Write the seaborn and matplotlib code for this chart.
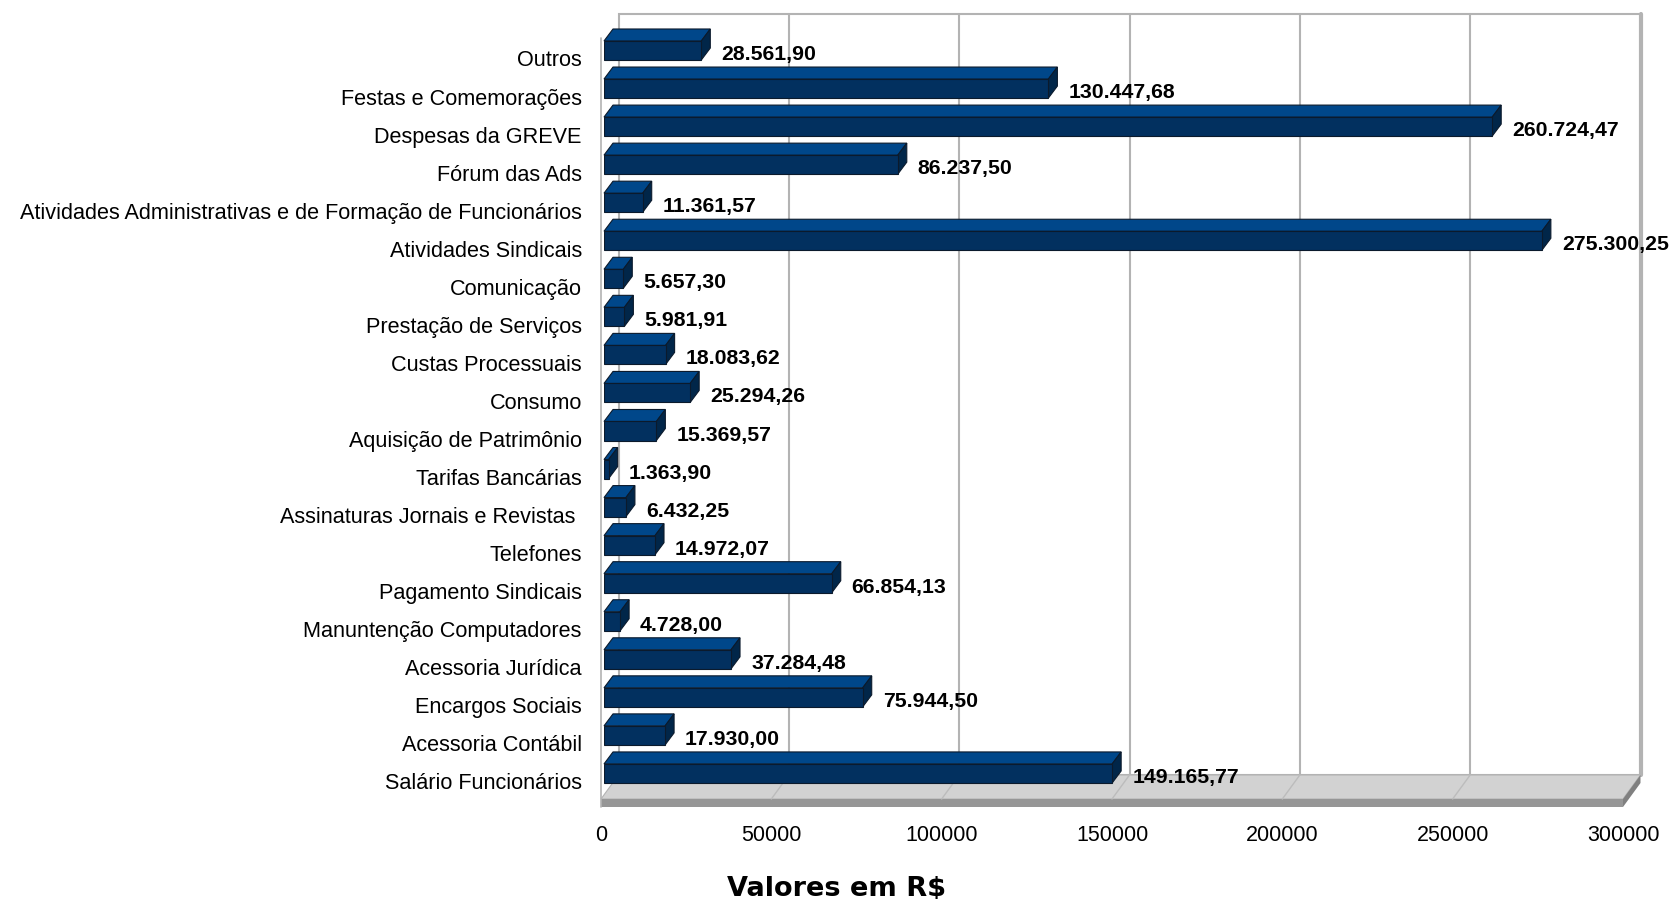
import matplotlib
matplotlib.use("Agg")
import matplotlib.pyplot as plt
import matplotlib.transforms as mtransforms
from matplotlib.patches import Polygon, Rectangle
from matplotlib.lines import Line2D
import pandas as pd
import seaborn as sns

# ---- data -------------------------------------------------------------
categorias = [
    "Outros",
    "Festas e Comemorações",
    "Despesas da GREVE",
    "Fórum das Ads",
    "Atividades Administrativas e de Formação de Funcionários",
    "Atividades Sindicais",
    "Comunicação",
    "Prestação de Serviços",
    "Custas Processuais",
    "Consumo",
    "Aquisição de Patrimônio",
    "Tarifas Bancárias",
    "Assinaturas Jornais e Revistas ",
    "Telefones",
    "Pagamento Sindicais",
    "Manuntenção Computadores",
    "Acessoria Jurídica",
    "Encargos Sociais",
    "Acessoria Contábil",
    "Salário Funcionários",
]
valores = [
    28561.90, 130447.68, 260724.47, 86237.50, 11361.57,
    275300.25, 5657.30, 5981.91, 18083.62, 25294.26,
    15369.57, 1363.90, 6432.25, 14972.07, 66854.13,
    4728.00, 37284.48, 75944.50, 17930.00, 149165.77,
]
ticks_x = [0, 50000, 100000, 150000, 200000, 250000, 300000]
titulo_eixo = "Valores em R$"

# ---- styling ----------------------------------------------------------
FRENTE = "#02305f"
TOPO = "#00478a"
LADO = "#012649"
BORDA = "#0b1a2c"
PAREDE = "#b3b3b3"
PISO = "#d2d2d2"
PISO_FRENTE = "#969696"
PISO_LADO = "#808080"


def brl(v):
    s = f"{v:,.2f}"
    return s.replace(",", "#").replace(".", ",").replace("#", ".")


W, H, DPI = 1672, 899, 100
sns.set_theme(style="white")
plt.rcParams["font.family"] = ["Liberation Sans", "DejaVu Sans"]

fig = plt.figure(figsize=(W / DPI, H / DPI), dpi=DPI)
fig.patch.set_facecolor("white")

# plot frame in pixels (front plane of the bars)
AX_L, AX_R, AX_T, AX_B = 604, 1626, 14, 807
ROW0, ROW_STEP = 50.5, 38.05
XMAX = ticks_x[-1]
ax = fig.add_axes([AX_L / W, 1 - AX_B / H, (AX_R - AX_L) / W, (AX_B - AX_T) / H])

DXP = XMAX / (AX_R - AX_L)      # data units per pixel (x)
DYP = 1.0 / ROW_STEP            # data units per pixel (y)


def py(p):
    return (p - ROW0) / ROW_STEP


df = pd.DataFrame({"categoria": categorias, "valor": valores})
sns.barplot(data=df, x="valor", y="categoria", orient="h", color=FRENTE,
            saturation=1, width=0.5, edgecolor=BORDA, linewidth=0.8,
            ax=ax, zorder=4)
ax.set_xlim(0, XMAX)
ax.set_ylim(py(AX_B), py(AX_T))

bars = list(ax.patches)

# ---- 3D box: back wall, floor, side line --------------------------------
BACK = 14.5 * DXP      # back wall shift
FRONT = -3 * DXP       # floor front edge shift
y_wall_top = py(14)
y_floor_back = py(775)
y_floor_front = py(799)
y_floor_bottom = py(807)

ax.add_patch(Rectangle((BACK, y_wall_top), XMAX, y_floor_back - y_wall_top,
                       facecolor="white", edgecolor=PAREDE, lw=1.5,
                       zorder=0, clip_on=False))
ax.add_line(Line2D([XMAX + BACK, XMAX + BACK], [y_wall_top, y_floor_back],
                   color=PAREDE, lw=3, zorder=0.5, clip_on=False))
for t in ticks_x[1:-1]:
    ax.add_line(Line2D([t + BACK, t + BACK], [y_wall_top, y_floor_back],
                       color=PAREDE, lw=1.5, zorder=0.5, clip_on=False))

ax.add_patch(Polygon([(BACK, y_floor_back), (XMAX + BACK, y_floor_back),
                      (XMAX + FRONT, y_floor_front), (FRONT, y_floor_front)],
                     closed=True, facecolor=PISO, edgecolor=PAREDE, lw=0.8,
                     zorder=1, clip_on=False))
for t in ticks_x[1:-1]:
    ax.add_line(Line2D([t + BACK, t + FRONT], [y_floor_back, y_floor_front],
                       color="#bcbcbc", lw=1, zorder=1.2, clip_on=False))
ax.add_patch(Rectangle((FRONT, y_floor_front), XMAX, y_floor_bottom - y_floor_front,
                       facecolor=PISO_FRENTE, edgecolor="none", zorder=1,
                       clip_on=False))
ax.add_patch(Polygon([(XMAX + FRONT, y_floor_front), (XMAX + BACK, y_floor_back),
                      (XMAX + BACK, y_floor_back + 8 * DYP),
                      (XMAX + FRONT, y_floor_bottom)],
                     closed=True, facecolor=PISO_LADO, edgecolor="none",
                     zorder=1, clip_on=False))
ax.add_line(Line2D([FRONT, FRONT], [py(38), y_floor_bottom], color=PAREDE,
                   lw=1.2, zorder=1.5, clip_on=False))

# ---- bar depth faces + value labels ------------------------------------
DX, DY = 9 * DXP, 12 * DYP
for bar, v in zip(bars, valores):
    x0 = bar.get_x()
    x1 = x0 + bar.get_width()
    yt = bar.get_y()
    yb = yt + bar.get_height()
    ax.add_patch(Polygon([(x0, yt), (x1, yt), (x1 + DX, yt - DY), (x0 + DX, yt - DY)],
                         closed=True, facecolor=TOPO, edgecolor=BORDA, lw=0.8,
                         zorder=3.5, clip_on=False))
    ax.add_patch(Polygon([(x1, yt), (x1 + DX, yt - DY), (x1 + DX, yb - DY), (x1, yb)],
                         closed=True, facecolor=LADO, edgecolor=BORDA, lw=0.8,
                         zorder=3.6, clip_on=False))
    ax.annotate(brl(v), xy=(x1, (yt + yb) / 2), xytext=(20, -4),
                textcoords="offset pixels", ha="left", va="center",
                fontsize=15.3, fontweight="bold", color="black",
                zorder=6, annotation_clip=False)

# ---- axes text ----------------------------------------------------------
for s in ax.spines.values():
    s.set_visible(False)
ax.grid(False)
ax.set_facecolor("none")
ax.tick_params(axis="both", length=0)

ax.set_xticks(ticks_x)
ax.set_xticklabels([str(t) for t in ticks_x], fontsize=15.5, color="black")
ax.tick_params(axis="x", pad=13)
shift_x = mtransforms.ScaledTranslation(-3 / DPI, 0, fig.dpi_scale_trans)
for lab in ax.get_xticklabels():
    lab.set_transform(lab.get_transform() + shift_x)

ax.set_yticks(range(len(categorias)))
ax.set_yticklabels(categorias, fontsize=15.6, color="black")
ax.tick_params(axis="y", pad=16)
shift_y = mtransforms.ScaledTranslation(0, -8 / DPI, fig.dpi_scale_trans)
for lab in ax.get_yticklabels():
    lab.set_transform(lab.get_transform() + shift_y)

ax.set_ylabel("")
ax.set_xlabel(titulo_eixo, fontfamily="DejaVu Sans", fontweight="bold",
              fontsize=19.5, color="black")
ax.xaxis.label.set_va("center")
ax.xaxis.set_label_coords((837 - AX_L) / (AX_R - AX_L), (AX_B - 889) / (AX_B - AX_T))

fig.savefig("out.png", dpi=DPI, facecolor="white")
